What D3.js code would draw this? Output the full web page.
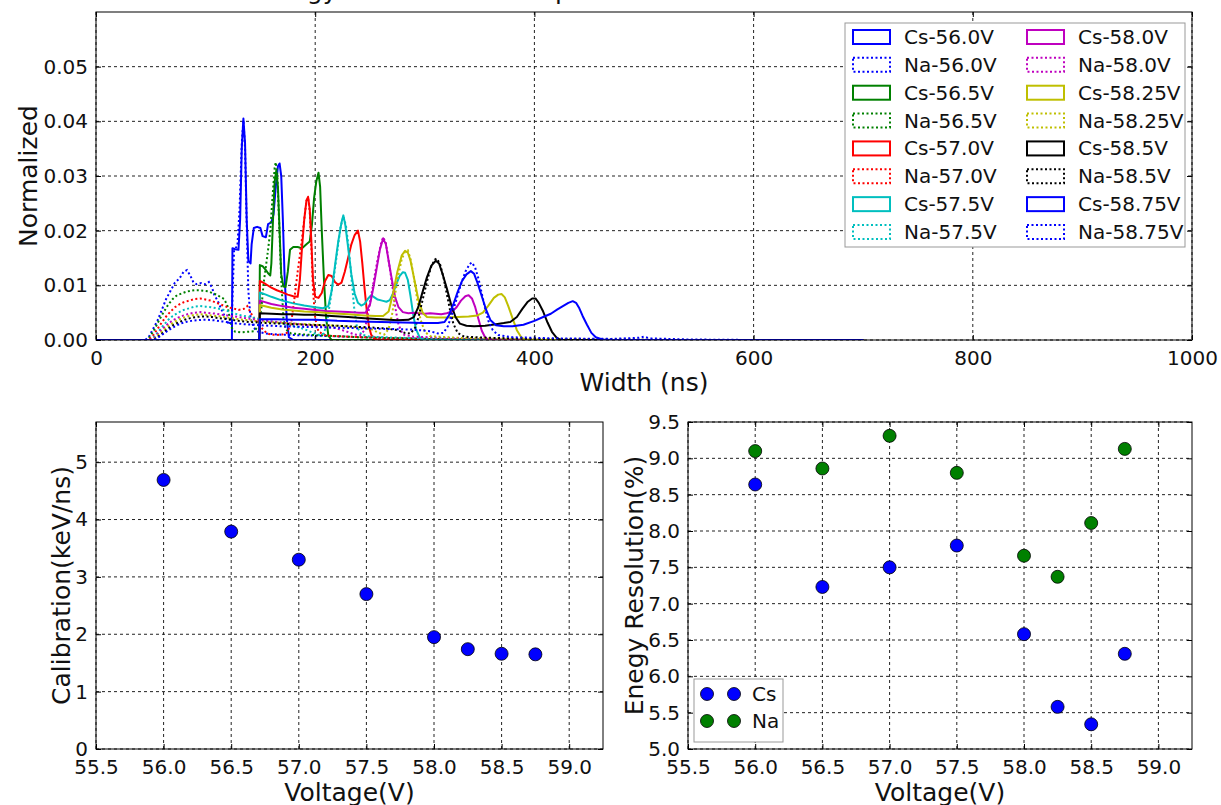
<!DOCTYPE html>
<html>
<head>
<meta charset="utf-8">
<script src="https://cdn.jsdelivr.net/npm/d3@7"></script>
<style>
  body { margin: 0; background: #fff; }
  svg { display: block; font-family: "DejaVu Sans", sans-serif; }
</style>
</head>
<body>
<svg id="chart" width="1221" height="805"></svg>
<script>
// ---- data ----
const voltageLabels = ["56.0", "56.5", "57.0", "57.5", "58.0", "58.25", "58.5", "58.75"];
const voltages = [56.0, 56.5, 57.0, 57.5, 58.0, 58.25, 58.5, 58.75];
const seriesColors = ["#0000ff", "#008000", "#ff0000", "#00bfbf", "#bf00bf", "#bfbf00", "#000000", "#0000ff"];

// width spectra [width ns, normalized count]
const cs560 = [[0,0],[124,0],[124.5,0.0168],[127,0.0166],[130,0.0165],[131.5,0.022],[133,0.035],[134.5,0.0405],[136,0.036],[137.5,0.022],[139,0.0145],[141,0.014],[142,0.0175],[144,0.0205],[147,0.0207],[150,0.0205],[152,0.019],[155,0.0188],[157,0.0212],[160,0.0215],[162,0.023],[164,0.028],[166,0.0318],[167.5,0.0323],[169,0.030],[170.5,0.022],[172,0.012],[174,0.004],[176,0.0005],[180,0],[700,0]];
const na560 = [[0,0],[45,0],[48,0.0005],[52,0.002],[56,0.0035],[60,0.0055],[64,0.0075],[68,0.009],[72,0.0105],[76,0.0112],[80,0.0125],[83,0.0128],[86,0.0118],[89,0.0105],[92,0.0102],[96,0.0104],[100,0.0102],[103,0.0106],[106,0.0095],[108,0.0082],[111,0.0072],[114,0.0058],[117,0.0045],[120,0.0033],[122,0.0028],[124,0.0045],[126,0.0165],[129,0.0172],[131,0.024],[133,0.036],[134.5,0.0402],[136,0.035],[137.5,0.021],[139,0.009],[141,0.004],[144,0.0022],[148,0.0015],[155,0.0012],[165,0.001],[180,0.0009],[200,0.0008],[230,0.0006],[260,0.0004],[300,0.0002],[350,0.0001],[400,0],[700,0]];
const cs565 = [[0,0],[149,0],[149.5,0.0137],[152,0.0135],[155,0.0128],[157,0.0122],[159,0.0118],[160,0.014],[161.5,0.022],[163,0.029],[164.5,0.031],[166,0.028],[167.5,0.02],[169,0.012],[171,0.0098],[173,0.0097],[175,0.0125],[177,0.0165],[180,0.017],[184,0.017],[188,0.0168],[192,0.0175],[195,0.018],[197,0.021],[199,0.026],[201,0.029],[203,0.0306],[204.5,0.028],[206,0.02],[208,0.011],[210,0.004],[212,0.0008],[215,0],[700,0]];
const na565 = [[0,0],[47,0],[50,0.0008],[54,0.0022],[58,0.0038],[62,0.0052],[66,0.0065],[70,0.0075],[74,0.0082],[78,0.0085],[82,0.0088],[86,0.009],[90,0.0091],[94,0.0091],[98,0.009],[102,0.0089],[106,0.0086],[110,0.0083],[114,0.0078],[117,0.0075],[120,0.0062],[122,0.004],[124,0.0022],[127,0.0015],[132,0.0014],[138,0.0015],[144,0.0016],[148,0.0025],[151,0.006],[153,0.0105],[155,0.0134],[157,0.0165],[159,0.02],[161,0.026],[163,0.0315],[164,0.0325],[165.5,0.03],[167,0.022],[169,0.011],[171,0.004],[173,0.002],[178,0.0012],[190,0.001],[210,0.0008],[240,0.0005],[280,0.0003],[330,0.0001],[400,0],[700,0]];
const cs570 = [[0,0],[149,0],[149.5,0.0108],[155,0.0102],[160,0.0096],[165,0.0091],[170,0.0087],[175,0.0083],[180,0.008],[184,0.0079],[186,0.011],[188,0.017],[190,0.022],[192,0.0255],[193.5,0.0262],[195,0.024],[196.5,0.018],[198,0.011],[200,0.0079],[203,0.0077],[206,0.0086],[209,0.0108],[212,0.0119],[215,0.0117],[218,0.0106],[221,0.0101],[224,0.0105],[227,0.0125],[230,0.015],[233,0.0175],[236,0.0192],[239,0.02],[241,0.018],[243,0.014],[245,0.0095],[247,0.0055],[249,0.0025],[251,0.001],[254,0.0002],[258,0],[700,0]];
const na570 = [[0,0],[48,0],[52,0.0008],[56,0.002],[60,0.0032],[64,0.0043],[68,0.0052],[72,0.006],[76,0.0065],[80,0.0069],[85,0.0072],[90,0.0075],[95,0.0076],[100,0.0074],[105,0.0072],[110,0.0068],[115,0.0064],[120,0.006],[125,0.0058],[130,0.0055],[135,0.0057],[138,0.0062],[141,0.005],[145,0.0038],[148,0.003],[152,0.002],[156,0.0012],[160,0.001],[165,0.0009],[170,0.001],[174,0.0013],[178,0.003],[181,0.0075],[184,0.0125],[187,0.017],[190,0.022],[192,0.0255],[193.5,0.026],[195,0.0235],[196.5,0.017],[198,0.009],[200,0.004],[203,0.0015],[210,0.0008],[230,0.0006],[260,0.0004],[300,0.0002],[350,0.0001],[420,0],[700,0]];
const cs575 = [[0,0],[149,0],[149.5,0.0087],[155,0.0083],[160,0.0079],[170,0.0072],[180,0.0067],[190,0.0063],[200,0.006],[207,0.0058],[212,0.0062],[215,0.009],[218,0.0135],[221,0.018],[224,0.0215],[225.7,0.0228],[227.5,0.021],[230,0.017],[233,0.012],[236,0.0085],[239,0.0068],[242,0.0063],[245,0.0066],[248,0.0075],[251,0.0082],[254,0.0078],[257,0.0074],[261,0.0072],[265,0.007],[268,0.0073],[271,0.0085],[274,0.0102],[277,0.0117],[280,0.0124],[282,0.0123],[284.5,0.011],[287,0.008],[289.5,0.0045],[292,0.002],[295,0.0006],[298,0],[700,0]];
const na575 = [[0,0],[50,0],[54,0.0008],[58,0.0018],[62,0.0028],[66,0.0037],[70,0.0044],[75,0.005],[80,0.0055],[85,0.0058],[90,0.0061],[95,0.0062],[100,0.0061],[105,0.006],[110,0.0058],[115,0.0056],[120,0.0053],[125,0.005],[130,0.0046],[140,0.0042],[150,0.0038],[160,0.0034],[170,0.003],[180,0.0026],[190,0.002],[198,0.0013],[204,0.0009],[208,0.0012],[211,0.0035],[214,0.0075],[217,0.0115],[220,0.016],[223,0.0205],[225.7,0.0226],[228,0.021],[230.5,0.017],[233,0.0115],[235.5,0.006],[238,0.0025],[242,0.001],[250,0.0006],[280,0.0004],[320,0.0002],[380,0.0001],[450,0],[700,0]];
const cs580 = [[0,0],[149,0],[149.5,0.0072],[160,0.0066],[170,0.0062],[180,0.0059],[190,0.0057],[200,0.0055],[210,0.0053],[220,0.0052],[230,0.0051],[240,0.005],[246,0.005],[250,0.0065],[253,0.0095],[256,0.013],[259,0.0165],[262,0.0186],[264.5,0.0175],[267,0.0145],[270,0.011],[273,0.0078],[276,0.006],[280,0.0051],[285,0.0049],[290,0.005],[295,0.0049],[300,0.0048],[305,0.0049],[310,0.0048],[315,0.0047],[320,0.0049],[325,0.0052],[329,0.006],[333,0.0072],[337,0.008],[340,0.0082],[343,0.0076],[346,0.006],[349,0.0038],[352,0.0017],[355,0.0005],[358,0],[700,0]];
const na580 = [[0,0],[50,0],[54,0.0006],[58,0.0015],[62,0.0023],[66,0.003],[70,0.0036],[75,0.0041],[80,0.0045],[85,0.0048],[90,0.005],[95,0.0051],[100,0.005],[105,0.0049],[110,0.0048],[115,0.0046],[120,0.0045],[130,0.0042],[140,0.0039],[150,0.0036],[160,0.0034],[175,0.0031],[190,0.0028],[205,0.0025],[218,0.0022],[228,0.0016],[236,0.001],[241,0.0009],[245,0.0018],[248,0.0045],[251,0.008],[254,0.0115],[257,0.0148],[260,0.0176],[262,0.0188],[264.5,0.0178],[267,0.0145],[270,0.0105],[273,0.006],[276,0.0028],[280,0.001],[290,0.0006],[320,0.0004],[360,0.0002],[420,0.0001],[480,0],[700,0]];
const cs5825 = [[0,0],[149,0],[149.5,0.0064],[160,0.0059],[170,0.0056],[180,0.0054],[190,0.0052],[200,0.0051],[215,0.0049],[230,0.0047],[245,0.0045],[255,0.0044],[262,0.0044],[267,0.0052],[271,0.0085],[275,0.0125],[279,0.0155],[282,0.0163],[284.5,0.016],[287,0.0145],[290,0.0115],[294,0.0075],[298,0.005],[302,0.0042],[310,0.0041],[320,0.0041],[330,0.0042],[340,0.0043],[348,0.0045],[353,0.005],[358,0.0063],[363,0.0077],[367,0.0083],[370,0.0084],[373,0.0078],[376,0.0063],[380,0.004],[384,0.0018],[388,0.0005],[392,0],[700,0]];
const na5825 = [[0,0],[51,0],[55,0.0006],[60,0.0015],[65,0.0024],[70,0.0031],[75,0.0037],[80,0.0041],[85,0.0044],[90,0.0046],[95,0.0047],[100,0.0046],[105,0.0045],[110,0.0044],[120,0.0041],[130,0.0038],[140,0.0036],[150,0.0034],[165,0.0032],[180,0.003],[200,0.0028],[220,0.0026],[240,0.0023],[252,0.0019],[258,0.0013],[263,0.001],[267,0.002],[270,0.0045],[273,0.0085],[276,0.012],[279,0.0148],[282,0.0162],[284.5,0.0164],[287,0.0148],[290,0.0115],[293,0.0075],[296,0.0038],[300,0.0015],[305,0.0007],[330,0.0004],[380,0.0002],[450,0.0001],[520,0],[700,0]];
const cs585 = [[0,0],[149,0],[149.5,0.0049],[160,0.0048],[170,0.0047],[180,0.0047],[190,0.0046],[200,0.0046],[215,0.0044],[230,0.0042],[245,0.004],[260,0.0038],[275,0.0036],[285,0.0037],[290,0.0042],[294,0.006],[298,0.0088],[302,0.0115],[306,0.0136],[310,0.0145],[313,0.014],[316,0.0122],[320,0.0095],[324,0.0065],[328,0.0042],[332,0.003],[338,0.0026],[345,0.0025],[355,0.0026],[365,0.0029],[372,0.0031],[378,0.0033],[384,0.0042],[389,0.0057],[394,0.007],[398,0.0076],[401,0.0076],[404,0.0068],[408,0.0052],[412,0.0032],[416,0.0015],[420,0.0005],[424,0],[700,0]];
const na585 = [[0,0],[52,0],[56,0.0005],[61,0.0013],[66,0.0021],[71,0.0028],[76,0.0033],[81,0.0037],[86,0.004],[91,0.0042],[96,0.0043],[101,0.0043],[106,0.0042],[112,0.004],[120,0.0038],[130,0.0035],[140,0.0033],[155,0.0031],[170,0.003],[190,0.0028],[210,0.0027],[230,0.0025],[250,0.0023],[265,0.0021],[275,0.0018],[282,0.0013],[287,0.0012],[291,0.0022],[294,0.004],[297,0.0065],[300,0.009],[303,0.0115],[306,0.0135],[309,0.0147],[311,0.0149],[314,0.0138],[317,0.0115],[320,0.0085],[323,0.0055],[326,0.003],[330,0.0013],[336,0.0006],[360,0.0004],[400,0.0002],[470,0.0001],[540,0],[700,0]];
const cs5875 = [[0,0],[149,0],[149.5,0.0038],[165,0.0038],[180,0.0037],[200,0.0037],[220,0.0035],[240,0.0034],[260,0.0033],[280,0.0032],[300,0.0031],[312,0.0031],[318,0.0033],[322,0.0045],[326,0.0065],[330,0.0088],[334,0.0108],[338,0.012],[342,0.0126],[345,0.0121],[348,0.0105],[352,0.008],[356,0.0055],[360,0.0036],[365,0.0027],[372,0.0025],[380,0.0025],[390,0.0028],[400,0.0035],[408,0.0042],[415,0.0048],[421,0.0056],[426,0.0062],[431,0.0068],[435,0.0071],[438,0.0068],[441,0.0058],[444,0.0044],[448,0.0028],[452,0.0013],[456,0.0005],[462,0.0001],[470,0],[700,0]];
const na5875 = [[0,0],[52,0],[57,0.0005],[62,0.0012],[67,0.0019],[72,0.0025],[77,0.003],[82,0.0033],[87,0.0035],[92,0.0036],[97,0.0037],[102,0.0037],[108,0.0036],[115,0.0034],[125,0.0031],[135,0.0029],[150,0.0027],[170,0.0025],[190,0.0024],[210,0.0023],[230,0.0022],[250,0.0021],[270,0.002],[290,0.0019],[305,0.0016],[312,0.0012],[317,0.0013],[321,0.0025],[325,0.0048],[329,0.0075],[333,0.0102],[337,0.0125],[341,0.0139],[343,0.0142],[346,0.0132],[349,0.0112],[352,0.0085],[355,0.0058],[358,0.0035],[362,0.0018],[367,0.0009],[380,0.0005],[420,0.0003],[470,0.0002],[495,0.0004],[500,0.0006],[505,0.0003],[540,0.0001],[600,0],[700,0]];

const csSpectra = [cs560, cs565, cs570, cs575, cs580, cs5825, cs585, cs5875];
const naSpectra = [na560, na565, na570, na575, na580, na5825, na585, na5875];

// bottom panels
const calibration = [4.69, 3.79, 3.30, 2.70, 1.95, 1.74, 1.66, 1.65];
const resolutionCs = [8.64, 7.23, 7.50, 7.80, 6.58, 5.58, 5.34, 6.31];
const resolutionNa = [9.10, 8.86, 9.31, 8.80, 7.66, 7.37, 8.11, 9.13];

const widthTicks = [0, 200, 400, 600, 800, 1000];
const normTicks = [0, 0.01, 0.02, 0.03, 0.04, 0.05];
const voltTicks = [55.5, 56.0, 56.5, 57.0, 57.5, 58.0, 58.5, 59.0];
const calTicks = [0, 1, 2, 3, 4, 5];
const resTicks = [5.0, 5.5, 6.0, 6.5, 7.0, 7.5, 8.0, 8.5, 9.0, 9.5];

// ---- drawing ----
const svg = d3.select("#chart");
svg.append("rect").attr("width", 1221).attr("height", 805).attr("fill", "#fff");

const TICK_FONT = 20;
const LABEL_FONT = 25;

function frame(box, x, y, xt, yt, xfmt, yfmt, clipId) {
  const g = svg.append("g");
  // grid
  g.append("g").selectAll("line").data(xt).join("line")
    .attr("x1", (d) => x(d)).attr("x2", (d) => x(d))
    .attr("y1", box.top).attr("y2", box.bottom)
    .attr("stroke", "#222").attr("stroke-width", 1).attr("stroke-dasharray", "3,3");
  g.append("g").selectAll("line").data(yt).join("line")
    .attr("y1", (d) => y(d)).attr("y2", (d) => y(d))
    .attr("x1", box.left).attr("x2", box.right)
    .attr("stroke", "#222").attr("stroke-width", 1).attr("stroke-dasharray", "3,3");

  svg.append("clipPath").attr("id", clipId).append("rect")
    .attr("x", box.left).attr("y", box.top)
    .attr("width", box.right - box.left).attr("height", box.bottom - box.top);
  const plot = svg.append("g").attr("clip-path", `url(#${clipId})`);

  const axes = svg.append("g");
  const bottom = axes.append("g").attr("transform", `translate(0,${box.bottom})`)
    .call(d3.axisBottom(x).tickValues(xt).tickFormat(xfmt).tickSizeInner(-5).tickSizeOuter(0).tickPadding(10));
  axes.append("g").attr("transform", `translate(${box.left},0)`)
    .call(d3.axisLeft(y).tickValues(yt).tickFormat(yfmt).tickSizeInner(-5).tickSizeOuter(0).tickPadding(8));
  axes.append("g").attr("transform", `translate(0,${box.top})`)
    .call(d3.axisTop(x).tickValues(xt).tickFormat("").tickSizeInner(-5).tickSizeOuter(0));
  axes.append("g").attr("transform", `translate(${box.right},0)`)
    .call(d3.axisRight(y).tickValues(yt).tickFormat("").tickSizeInner(-5).tickSizeOuter(0));
  axes.selectAll(".domain").remove();
  axes.selectAll(".tick line").attr("stroke", "#000");
  axes.selectAll("text").attr("font-size", TICK_FONT).attr("font-family", "DejaVu Sans").attr("fill", "#111");
  bottom.selectAll("text").attr("dy", "0.75em");
  axes.append("rect")
    .attr("x", box.left).attr("y", box.top)
    .attr("width", box.right - box.left).attr("height", box.bottom - box.top)
    .attr("fill", "none").attr("stroke", "#000").attr("stroke-width", 1);
  return { plot, axes };
}

// --- top panel: width spectra ---
const topBox = { left: 96, right: 1192, top: 12, bottom: 340 };
const xW = d3.scaleLinear().domain([0, 1000]).range([topBox.left, topBox.right]);
const yN = d3.scaleLinear().domain([0, 0.06]).range([topBox.bottom, topBox.top]);
const topPanel = frame(topBox, xW, yN, widthTicks, normTicks, d3.format("d"), d3.format(".2f"), "clipTop");

const line = d3.line().x((d) => xW(d[0])).y((d) => yN(d[1]));
voltageLabels.forEach((v, i) => {
  topPanel.plot.append("path").datum(csSpectra[i])
    .attr("d", line).attr("fill", "none")
    .attr("stroke", seriesColors[i]).attr("stroke-width", 2).attr("stroke-linejoin", "round");
  topPanel.plot.append("path").datum(naSpectra[i])
    .attr("d", line).attr("fill", "none")
    .attr("stroke", seriesColors[i]).attr("stroke-width", 2).attr("stroke-dasharray", "2,2.5");
});

// title sits above the picture; only its descenders show
svg.append("text").attr("x", 250).attr("y", -1)
  .attr("font-size", LABEL_FONT).attr("fill", "#111")
  .text("Energy Resolution and Spectrum");

svg.append("text").attr("x", (topBox.left + topBox.right) / 2).attr("y", 391)
  .attr("text-anchor", "middle").attr("font-size", LABEL_FONT).attr("fill", "#111")
  .text("Width (ns)");
svg.append("text")
  .attr("transform", `translate(37,${(topBox.top + topBox.bottom) / 2}) rotate(-90)`)
  .attr("text-anchor", "middle").attr("font-size", LABEL_FONT).attr("fill", "#111")
  .text("Normalized");

// legend (two columns, Cs / Na pairs)
const legend = svg.append("g");
legend.append("rect").attr("x", 845).attr("y", 23).attr("width", 340).attr("height", 224)
  .attr("fill", "#fff").attr("stroke", "#999").attr("stroke-width", 1);
const legendRowY = d3.scaleLinear().domain([0, 7]).range([37, 232]);
voltageLabels.forEach((v, i) => {
  const col = i < 4 ? 0 : 1;
  const px = col === 0 ? 853 : 1027;
  [["Cs", null], ["Na", "2,2.5"]].forEach(([src, dash], k) => {
    const row = 2 * (i % 4) + k;
    const cy = legendRowY(row);
    legend.append("rect").attr("x", px).attr("y", cy - 7).attr("width", 37).attr("height", 14)
      .attr("fill", "none").attr("stroke", seriesColors[i]).attr("stroke-width", 2)
      .attr("stroke-dasharray", dash);
    legend.append("text").attr("x", px + 51).attr("y", cy + 7)
      .attr("font-size", TICK_FONT).attr("fill", "#111")
      .text(`${src}-${v}V`);
  });
});

// --- bottom left: calibration ---
const blBox = { left: 96, right: 603, top: 422, bottom: 749 };
const xV1 = d3.scaleLinear().domain([55.5, 59.25]).range([blBox.left, blBox.right]);
const yC = d3.scaleLinear().domain([0, 5.7]).range([blBox.bottom, blBox.top]);
const bl = frame(blBox, xV1, yC, voltTicks, calTicks, d3.format(".1f"), d3.format("d"), "clipBL");
bl.plot.selectAll("circle").data(voltages).join("circle")
  .attr("cx", (d) => xV1(d)).attr("cy", (d, i) => yC(calibration[i])).attr("r", 6.5)
  .attr("fill", "#0000ff").attr("stroke", "#000").attr("stroke-width", 0.8);
svg.append("text").attr("x", (blBox.left + blBox.right) / 2).attr("y", 801)
  .attr("text-anchor", "middle").attr("font-size", LABEL_FONT).attr("fill", "#111")
  .text("Voltage(V)");
svg.append("text")
  .attr("transform", `translate(70,${(blBox.top + blBox.bottom) / 2}) rotate(-90)`)
  .attr("text-anchor", "middle").attr("font-size", LABEL_FONT).attr("fill", "#111")
  .text("Calibration(keV/ns)");

// --- bottom right: energy resolution ---
const brBox = { left: 688, right: 1192, top: 422, bottom: 749 };
const xV2 = d3.scaleLinear().domain([55.5, 59.25]).range([brBox.left, brBox.right]);
const yR = d3.scaleLinear().domain([5.0, 9.5]).range([brBox.bottom, brBox.top]);
const br = frame(brBox, xV2, yR, voltTicks, resTicks, d3.format(".1f"), d3.format(".1f"), "clipBR");
br.plot.append("g").selectAll("circle").data(voltages).join("circle")
  .attr("cx", (d) => xV2(d)).attr("cy", (d, i) => yR(resolutionCs[i])).attr("r", 6.5)
  .attr("fill", "#0000ff").attr("stroke", "#000").attr("stroke-width", 0.8);
br.plot.append("g").selectAll("circle").data(voltages).join("circle")
  .attr("cx", (d) => xV2(d)).attr("cy", (d, i) => yR(resolutionNa[i])).attr("r", 6.5)
  .attr("fill", "#008000").attr("stroke", "#000").attr("stroke-width", 0.8);
svg.append("text").attr("x", (brBox.left + brBox.right) / 2).attr("y", 801)
  .attr("text-anchor", "middle").attr("font-size", LABEL_FONT).attr("fill", "#111")
  .text("Voltage(V)");
svg.append("text")
  .attr("transform", `translate(643,${(brBox.top + brBox.bottom) / 2}) rotate(-90)`)
  .attr("text-anchor", "middle").attr("font-size", LABEL_FONT).attr("fill", "#111")
  .text("Enegy Resolution(%)");

const resLegend = svg.append("g");
resLegend.append("rect").attr("x", 694).attr("y", 679).attr("width", 89).attr("height", 63)
  .attr("fill", "#fff").attr("stroke", "#999").attr("stroke-width", 1);
[["Cs", "#0000ff"], ["Na", "#008000"]].forEach(([name, color], k) => {
  const cy = 694 + k * 27;
  [707, 734].forEach((cx) => {
    resLegend.append("circle").attr("cx", cx).attr("cy", cy).attr("r", 6.5)
      .attr("fill", color).attr("stroke", "#000").attr("stroke-width", 0.8);
  });
  resLegend.append("text").attr("x", 752).attr("y", cy + 7)
    .attr("font-size", TICK_FONT).attr("fill", "#111").text(name);
});
</script>
</body>
</html>
